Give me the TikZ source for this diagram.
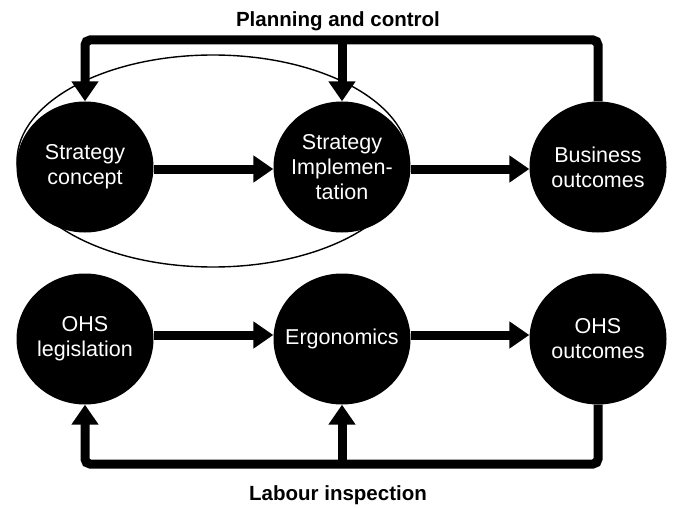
\documentclass[tikz,border=0pt]{standalone}
\usepackage{fontspec}
\setmainfont{Liberation Sans}
\usetikzlibrary{shapes.geometric,arrows.meta}
\begin{document}
\begin{tikzpicture}[x=1pt,y=1pt,
  disc/.style={ellipse,fill=black,draw=none,minimum width=137pt,minimum height=131pt,
    inner xsep=-25pt,inner ysep=0pt,
    text=white,align=center,font=\fontsize{21.5}{25}\selectfont},
  conn/.style={line width=9pt,draw=black},
  tip/.style={-{Triangle[length=20pt,width=26pt]}},
  title/.style={font=\fontsize{20.5}{24}\selectfont\bfseries}]
\useasboundingbox (0,0) rectangle (674,-508);
\fill[white] (0,0) rectangle (674,-508);
% big ellipse
\node[ellipse,draw=black,line width=1.4pt,minimum width=392pt,minimum height=212pt,inner sep=0pt] (grp) at (213,-161) {};
% nodes
\node[disc] (sc) at (85,-167) {Strategy\\concept};
\node[disc] (si) at (342,-167) {Strategy\\Implemen-\\tation};
\node[disc] (bo) at (598,-167) {Business\\outcomes};
\node[disc] (ol) at (85,-339) {OHS\\legislation};
\node[disc] (er) at (342,-339) {Ergonomics};
\node[disc] (oo) at (598,-339) {OHS\\outcomes};
% titles
\node[title,anchor=base] (pc) at (338,-27) {Planning and control};
\node[title,anchor=base] (li) at (338,-500) {Labour inspection};
% coordinates for bars
\coordinate (tb) at (342,-40);
\coordinate (bb) at (342,-464);
% horizontal arrows
\draw[conn,tip] (sc.east |- 0,-169) -- (si.west |- 0,-169);
\draw[conn,tip] (si.east |- 0,-169) -- (bo.west |- 0,-169);
\draw[conn,tip] (ol.east |- 0,-335) -- (er.west |- 0,-335);
\draw[conn,tip] (er.east |- 0,-335) -- (oo.west |- 0,-335);
% top feedback
\draw[conn,rounded corners=5pt,tip] (bo.north) |- (tb) -| (sc.north);
\draw[conn,tip] (tb) -- (si.north);
% bottom feedback
\draw[conn,rounded corners=5pt,tip] (oo.south) |- (bb) -| (ol.south);
\draw[conn,tip] (bb) -- (er.south);
\end{tikzpicture}
\end{document}
